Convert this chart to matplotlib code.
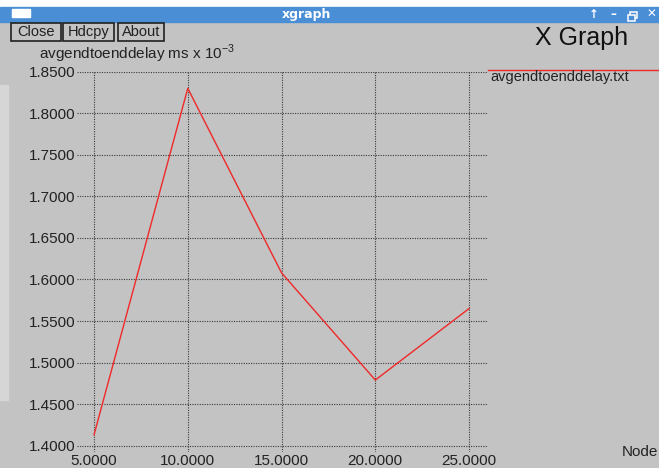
import matplotlib
matplotlib.use("Agg")
import matplotlib.pyplot as plt
from matplotlib.patches import Rectangle

plt.rcParams['font.family'] = ['Liberation Sans', 'DejaVu Sans']
plt.rcParams['mathtext.fontset'] = 'custom'
plt.rcParams['mathtext.rm'] = 'Liberation Sans'

# data
nodes = [5, 10, 15, 20, 25]
delay = [1.413, 1.830, 1.608, 1.479, 1.565]
yticks = [1.40, 1.45, 1.50, 1.55, 1.60, 1.65, 1.70, 1.75, 1.80, 1.85]
xticks = [5, 10, 15, 20, 25]

W, H = 659, 468
bg = '#c3c3c3'
fig = plt.figure(figsize=(W / 100, H / 100), dpi=100, facecolor=bg)


def px(x, y):
    # pixel coords (from top-left) -> figure fraction
    return x / W, 1 - y / H


# plot area
left, top = px(77, 71.7)
right, bottom = px(488, 452)
ax = fig.add_axes([left, bottom, right - left, top - bottom])
ax.set_facecolor(bg)
ax.plot(nodes, delay, color='#f02828', lw=1.0, zorder=3)
ax.set_xlim(4.093, 26.01)
ax.set_ylim(1.3924, 1.85)
ax.set_xticks(xticks)
ax.set_xticklabels([f"{v:.4f}" for v in xticks])
ax.set_yticks(yticks)
ax.set_yticklabels([f"{v:.4f}" for v in yticks])
ax.tick_params(length=0, labelsize=11, colors='#222222')
ax.tick_params(axis='y', pad=1)
ax.tick_params(axis='x', pad=1.5)
ax.grid(True, color='#3a3a3a', linestyle=(0, (1, 1.2)), lw=0.8)
for s in ax.spines.values():
    s.set_visible(False)
ax.set_axisbelow(True)

# title bar
fig.patches.append(Rectangle(px(0, 7), 1, 7 / H, transform=fig.transFigure,
                             color='white', zorder=0))
fig.patches.append(Rectangle(px(0, 22), 1, 15 / H, transform=fig.transFigure,
                             color='#4a8ed6', zorder=0))
fig.patches.append(Rectangle(px(12, 17), 18 / W, 8 / H, transform=fig.transFigure,
                             color='white', zorder=1))
fig.text(*px(306, 14.5), "xgraph", color='white', fontsize=9, fontweight='bold',
         ha='center', va='center', family=['DejaVu Sans'])
for x, ch in [(594, "↑"), (613, "–"), (651, "✕")]:
    fig.text(*px(x, 14.5), ch, color='white', fontsize=8.5, fontweight='bold',
             ha='center', va='center', family=['DejaVu Sans'])
# restore-window icon (two overlapping boxes)
for x0, y0 in [(630, 12), (628, 14.5)]:
    fig.patches.append(Rectangle(px(x0, y0 + 6), 7 / W, 6 / H,
                                 transform=fig.transFigure, facecolor='#4a8ed6',
                                 edgecolor='white', lw=1.1, zorder=2))

# left edge strip
fig.patches.append(Rectangle(px(0, 400), 8 / W, 315 / H, transform=fig.transFigure,
                             color='#d6d6d6', zorder=0))

# buttons
for x0, x1, label in [(11, 61, "Close"), (63, 114, "Hdcpy"), (118, 164, "About")]:
    fig.patches.append(Rectangle(px(x0, 41), (x1 - x0) / W, 18 / H,
                                 transform=fig.transFigure, facecolor=bg,
                                 edgecolor='#202020', lw=1.2, zorder=1))
    fig.text(*px((x0 + x1) / 2, 32), label, fontsize=10.5, color='#202020',
             ha='center', va='center')

fig.text(*px(535, 38), "X Graph", fontsize=18, color='#111111', va='center')
fig.text(*px(39, 54), r"avgendtoenddelay ms x 10$^{-3}$", fontsize=11,
         color='#222222', va='center')

# legend
fig.add_artist(plt.Line2D([488 / W, 1], [1 - 70 / H, 1 - 70 / H],
                          transform=fig.transFigure, color='#f02828', lw=1.0))
fig.text(*px(490, 77), "avgendtoenddelay.txt", fontsize=10.5, color='#222222',
         va='center')
fig.text(*px(622, 452), "Node", fontsize=11, color='#222222', va='center')

fig.savefig("out.png", dpi=100, facecolor=bg)
